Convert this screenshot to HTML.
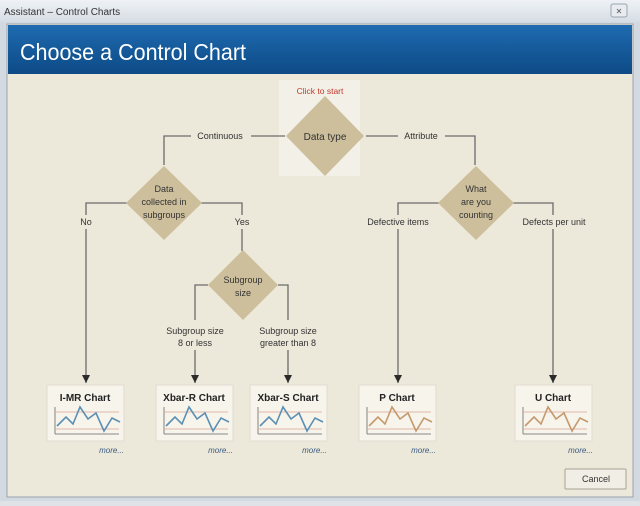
<!DOCTYPE html>
<html><head><style>
body{margin:0;width:640px;height:501px;overflow:hidden;background:#dfe3e8;font-family:"Liberation Sans",sans-serif}
</style></head><body>
<svg width="640" height="501" viewBox="0 0 640 501" xmlns="http://www.w3.org/2000/svg" font-family="Liberation Sans, sans-serif">
<defs>
<linearGradient id="tb" x1="0" y1="0" x2="0" y2="1"><stop offset="0" stop-color="#eef2f6"/><stop offset="1" stop-color="#d7dde5"/></linearGradient>
<linearGradient id="hd" x1="0" y1="0" x2="0" y2="1"><stop offset="0" stop-color="#1e6bb0"/><stop offset="1" stop-color="#0d4a86"/></linearGradient>
<marker id="ar" markerWidth="8" markerHeight="8" refX="8" refY="4" orient="auto" markerUnits="userSpaceOnUse"><path d="M0,0 L8,4 L0,8 Z" fill="#2b2b2b"/></marker>
<g id="chart">
<rect x="0" y="0" width="77" height="56" fill="#f7f4ec" stroke="#e2ddd0"/>
<line x1="8" y1="22" x2="8" y2="49" stroke="#666" stroke-width="0.8"/>
<line x1="8" y1="49" x2="72" y2="49" stroke="#666" stroke-width="0.8"/>
<line x1="8" y1="27" x2="72" y2="27" stroke="#d9a596" stroke-width="0.8"/>
<line x1="8" y1="44" x2="72" y2="44" stroke="#d9a596" stroke-width="0.8"/>
</g>
</defs>
<rect x="0" y="0" width="640" height="501" fill="#d3d9e1"/>
<rect x="0" y="0" width="640" height="22" fill="url(#tb)"/>
<text x="4" y="15" font-size="10" fill="#333">Assistant – Control Charts</text>
<rect x="611" y="4" width="16" height="13" fill="#e8ecf0" stroke="#9aa4b0" rx="2"/>
<text x="619" y="14" font-size="8" fill="#555" text-anchor="middle">✕</text>
<rect x="7" y="24" width="626" height="473" fill="#ece8da" stroke="#9aa4b0"/>
<rect x="8" y="25" width="624" height="49" fill="url(#hd)"/>
<text x="20" y="60" font-size="23" fill="#fff" textLength="226" lengthAdjust="spacingAndGlyphs">Choose a Control Chart</text>
<rect x="279" y="80" width="81" height="96" fill="#f3f0e7"/>
<text x="320" y="94" font-size="8.5" fill="#c0392b" text-anchor="middle">Click to start</text>
<g stroke="#6b6b6b" stroke-width="1.3" fill="none">
<path d="M164 165 V136 H191 M251 136 H285"/>
<path d="M366 136 H398 M445 136 H475 V165"/>
<path d="M127 203 H86 V215 M86 229 V383" marker-end="url(#ar)"/>
<path d="M200 203 H242 V215 M242 229 V251"/>
<path d="M208 285 H195 V320 M195 350 V383" marker-end="url(#ar)"/>
<path d="M278 285 H288 V320 M288 350 V383" marker-end="url(#ar)"/>
<path d="M439 203 H398 V215 M398 229 V383" marker-end="url(#ar)"/>
<path d="M513 203 H553 V215 M553 229 V383" marker-end="url(#ar)"/>
</g>
<g fill="#cdbf9c">
<polygon points="325,96 364,136 325,176 286,136"/>
<polygon points="164,166 202,203 164,240 126,203"/>
<polygon points="243,250 278,285 243,320 208,285"/>
<polygon points="476,166 514,203 476,240 438,203"/>
</g>
<g font-size="9" fill="#333" text-anchor="middle">
<text x="325" y="140" font-size="10">Data type</text>
<text x="164" y="192">Data</text><text x="164" y="205">collected in</text><text x="164" y="218">subgroups</text>
<text x="243" y="283">Subgroup</text><text x="243" y="296">size</text>
<text x="476" y="192">What</text><text x="476" y="205">are you</text><text x="476" y="218">counting</text>
<text x="220" y="139">Continuous</text>
<text x="421" y="139">Attribute</text>
<text x="86" y="225">No</text>
<text x="242" y="225">Yes</text>
<text x="195" y="334">Subgroup size</text><text x="195" y="346">8 or less</text>
<text x="288" y="334">Subgroup size</text><text x="288" y="346">greater than 8</text>
<text x="398" y="225">Defective items</text>
<text x="554" y="225">Defects per unit</text>
</g>
<g font-size="10" font-weight="bold" fill="#222" text-anchor="middle">
<g transform="translate(47,385)"><use href="#chart"/><text x="38" y="16">I-MR Chart</text><polyline points="10,41 19,32 26,39 33,22 41,34 49,28 57,46 65,33 73,37" fill="none" stroke="#5b8fb3" stroke-width="1.6"/></g>
<g transform="translate(156,385)"><use href="#chart"/><text x="38" y="16">Xbar-R Chart</text><polyline points="10,41 19,32 26,39 33,22 41,34 49,28 57,46 65,33 73,37" fill="none" stroke="#5b8fb3" stroke-width="1.6"/></g>
<g transform="translate(250,385)"><use href="#chart"/><text x="38" y="16">Xbar-S Chart</text><polyline points="10,41 19,32 26,39 33,22 41,34 49,28 57,46 65,33 73,37" fill="none" stroke="#5b8fb3" stroke-width="1.6"/></g>
<g transform="translate(359,385)"><use href="#chart"/><text x="38" y="16">P Chart</text><polyline points="10,41 19,32 26,39 33,22 41,34 49,28 57,46 65,33 73,37" fill="none" stroke="#c49a6c" stroke-width="1.6"/></g>
<g transform="translate(515,385)"><use href="#chart"/><text x="38" y="16">U Chart</text><polyline points="10,41 19,32 26,39 33,22 41,34 49,28 57,46 65,33 73,37" fill="none" stroke="#c49a6c" stroke-width="1.6"/></g>
</g>
<g font-size="8" font-style="italic" fill="#3a5a80" text-anchor="end">
<text x="124" y="453">more...</text><text x="233" y="453">more...</text><text x="327" y="453">more...</text><text x="436" y="453">more...</text><text x="593" y="453">more...</text>
</g>
<rect x="565" y="469" width="61" height="20" fill="#f1eee6" stroke="#a8a394" rx="1"/>
<text x="596" y="482" font-size="9" fill="#333" text-anchor="middle">Cancel</text>
</svg>
</body></html>
